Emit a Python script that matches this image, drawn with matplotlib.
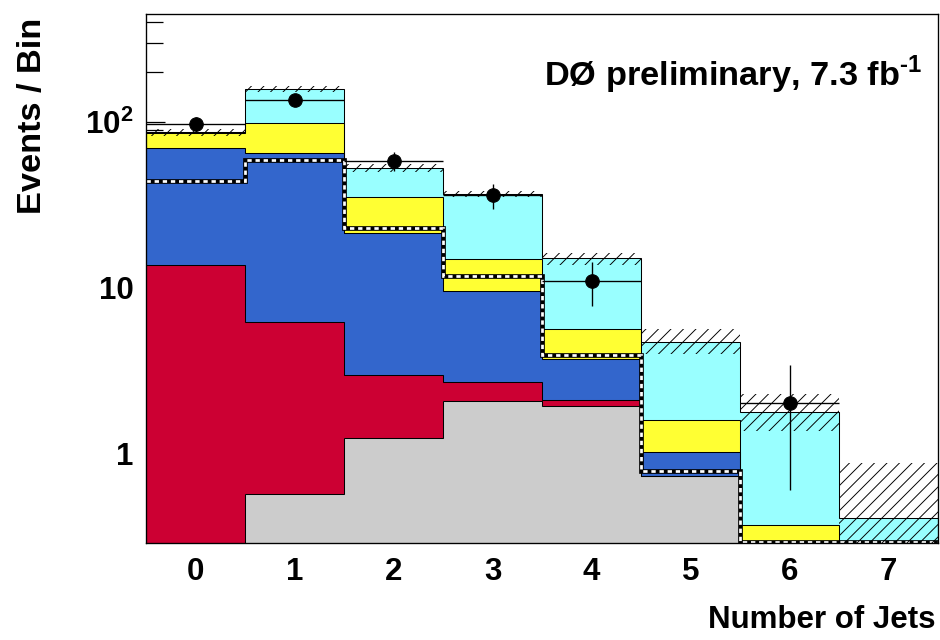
import matplotlib.pyplot as plt
import numpy as np

plt.rcParams['font.family'] = ['Liberation Sans', 'DejaVu Sans']
plt.rcParams['font.weight'] = 'bold'
plt.rcParams['mathtext.fontset'] = 'custom'
plt.rcParams['mathtext.rm'] = 'Liberation Sans:bold'
plt.rcParams['mathtext.bf'] = 'Liberation Sans:bold'
plt.rcParams['hatch.linewidth'] = 0.9
plt.rcParams['hatch.color'] = 'black'

# jet multiplicity bins
n_jets = np.arange(8)
edges = np.arange(9) - 0.5
tick_labels = ['0', '1', '2', '3', '4', '5', '6', '7']

# background contributions, bottom of the stack first
gray = [0, 0.565, 1.23, 2.07, 1.93, 0.726, 0, 0]
red = [13.6, 5.58, 1.74, 0.62, 0.17, 0, 0, 0]
blue = [56.0, 58.8, 18.5, 6.77, 1.61, 0.284, 0, 0]
yellow = [16.2, 33.7, 13.6, 5.34, 1.93, 0.575, 0.366, 0]
cyan = [0.7, 59.9, 17.5, 21.8, 9.36, 3.13, 1.40, 0.404]
colors = ['#cccccc', '#cc0033', '#3366cc', '#ffff33', '#99ffff']

# systematic band on the total prediction
band_up = [4.5, 6.5, 3.0, 1.5, 1.1, 0.86, 0.51, 0.47]
band_dn = [4.5, 6.5, 3.0, 1.5, 1.4, 0.73, 0.41, 0.47]

# dashed outline
dashed = [43.9, 58.9, 22.8, 11.7, 3.92, 0.78, 0.29, 0.29]

# data
data = [97, 136, 58, 36, 11, 0, 2, 0]
data_err = [9.8, 11.7, 7.6, 6.0, 3.3, 0, 1.4, 0]

DPI = 75
fig = plt.figure(figsize=(940 / DPI, 640 / DPI), dpi=DPI)
ax = fig.add_axes([146 / 940, 97 / 640, 792 / 940, 529 / 640])
ax.set_yscale('log')

# stacked histograms
bottom = np.full(8, 1e-3)
for vals, c in zip([gray, red, blue, yellow, cyan], colors):
    top = bottom + np.array(vals)
    ax.stairs(top, edges, baseline=bottom, fill=True, color=c, zorder=3)
    ax.stairs(top, edges, baseline=None, color='black', lw=1.0, zorder=3.5)
    bottom = top
total = bottom

# dashed white/black line
ax.stairs(dashed, edges, baseline=None, color='black', lw=4.5, zorder=4)
ax.stairs(dashed, edges, baseline=None, color='white', lw=2.6,
          linestyle=(0, (1.6, 1.4)), zorder=4.1)

# hatched uncertainty band
hi = total + np.array(band_up)
lo = np.clip(total - np.array(band_dn), 1e-3, None)
ax.stairs(hi, edges, baseline=lo, fill=True, facecolor='none',
          edgecolor='black', hatch='//', lw=0, zorder=5)

# data points
d = np.array(data, dtype=float)
m = d > 0
ax.errorbar(n_jets[m], d[m], yerr=np.array(data_err)[m], xerr=0.5, fmt='o',
            color='black', ms=13, elinewidth=1.3, capsize=0, zorder=6)

ax.set_xlim(-0.5, 7.5)
ax.set_ylim(0.286, 449)
ax.set_xticks(n_jets)
ax.set_xticklabels(tick_labels)
ax.set_yticks([1, 10, 100])
ax.set_yticklabels(['1', '10', r'$\mathbf{10^{2}}$'])
ax.tick_params(axis='x', length=0, pad=13, labelsize=30)
ax.tick_params(axis='y', which='both', direction='in', right=False,
               labelsize=30, pad=12)
ax.tick_params(axis='y', which='major', length=18, width=1.2)
ax.tick_params(axis='y', which='minor', length=16, width=1.2)
ax.yaxis.set_minor_formatter(plt.NullFormatter())
for s in ax.spines.values():
    s.set_zorder(10)
    s.set_linewidth(1.3)

fig.text(33 / 940, 1 - 18 / 640, 'Events / Bin', rotation=90, ha='center',
         va='top', fontsize=33, fontweight='bold')
fig.text(935 / 940, 1 - 620 / 640, 'Number of Jets', ha='right',
         va='center', fontsize=30, fontweight='bold')
fig.text(922 / 940, 1 - 86 / 640, r'DØ preliminary, 7.3 fb$^{\text{-1}}$',
         ha='right', va='baseline', fontsize=33, fontweight='bold')

fig.savefig('out.png', dpi=DPI)
